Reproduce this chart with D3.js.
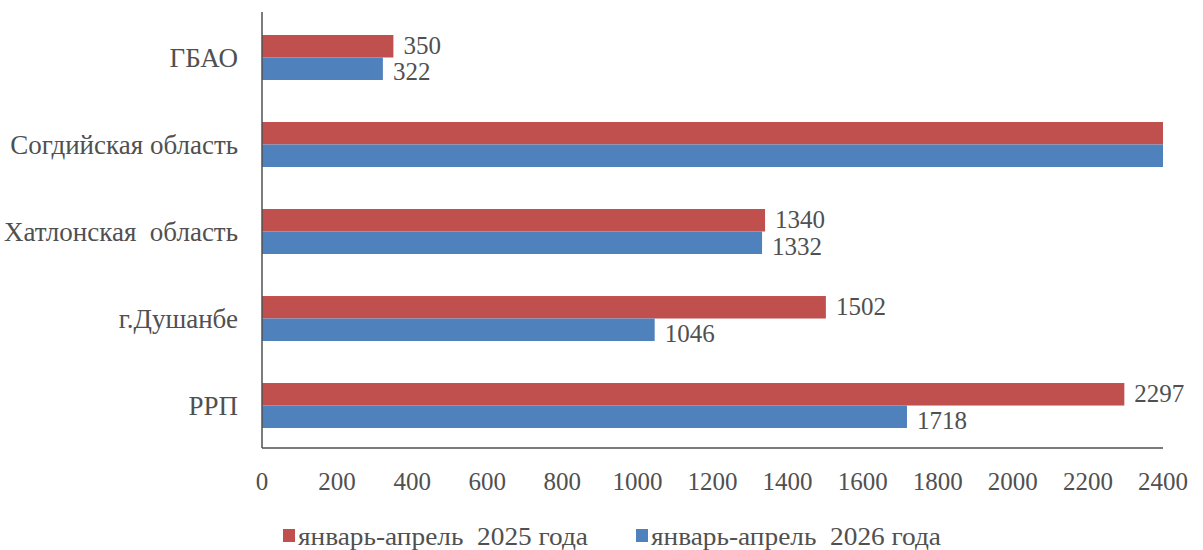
<!doctype html>
<html>
<head>
<meta charset="utf-8">
<style>
  body { margin: 0; background: #fff; }
  svg text { font-family: 'Liberation Serif', 'Times New Roman', serif; fill: #505050; }
</style>
<script src="https://d3js.org/d3.v7.min.js"></script>
</head>
<body>
<svg width="1203" height="550"></svg>
<script>
const categories = ["ГБАО", "Согдийская область", "Хатлонская  область", "г.Душанбе", "РРП"];
const seriesNames = ["январь-апрель  2025 года", "январь-апрель  2026 года"];
const values2025 = [350, 2520, 1340, 1502, 2297];
const values2026 = [322, 2480, 1332, 1046, 1718];
const xTicks = [0, 200, 400, 600, 800, 1000, 1200, 1400, 1600, 1800, 2000, 2200, 2400];
const colors = ["#C0504D", "#4F81BD"];

const svg = d3.select("svg");
const plotL = 262, plotR = 1163, plotT = 12, plotB = 448;

const x = d3.scaleLinear().domain([0, 2400]).range([plotL, plotR]);
const y = d3.scaleBand().domain(categories).range([plotT, plotB])
  .paddingInner(0.483).paddingOuter(0.247).align(0.535);
const ySub = d3.scaleBand().domain([0, 1]).range([0, y.bandwidth()]);

svg.append("clipPath").attr("id", "plot")
  .append("rect").attr("x", plotL).attr("y", plotT).attr("width", plotR - plotL).attr("height", plotB - plotT);

const series = [values2025, values2026];
const labelShift = [-1, 3];
const bars = svg.append("g").attr("clip-path", "url(#plot)");
series.forEach(function(vals, s) {
  bars.selectAll(".s" + s)
    .data(categories)
    .enter().append("rect")
    .attr("x", x(0))
    .attr("y", function(d) { return y(d) + ySub(s); })
    .attr("width", function(d, i) { return x(Math.min(vals[i], 2400)) - x(0); })
    .attr("height", ySub.bandwidth())
    .attr("fill", colors[s]);

  // labels only for bars that end inside the plot
  svg.selectAll(".lbl" + s)
    .data(categories.filter(function(d, i) { return vals[i] <= 2400; }))
    .enter().append("text")
    .attr("x", function(d) { return x(vals[categories.indexOf(d)]) + 10; })
    .attr("y", function(d) { return y(d) + ySub(s) + ySub.bandwidth() / 2 + labelShift[s]; })
    .attr("dy", "0.35em")
    .style("font-size", "25px")
    .text(function(d) { return vals[categories.indexOf(d)]; });
});

// axes
svg.append("line").attr("x1", plotL).attr("x2", plotL).attr("y1", plotT).attr("y2", plotB)
  .attr("stroke", "#505050").attr("stroke-width", 1.5);
svg.append("line").attr("x1", plotL).attr("x2", plotR).attr("y1", plotB).attr("y2", plotB)
  .attr("stroke", "#505050").attr("stroke-width", 1.5);

svg.selectAll(".xt")
  .data(xTicks)
  .enter().append("text")
  .attr("x", function(d) { return x(d); })
  .attr("y", 481)
  .attr("dy", "0.35em")
  .attr("text-anchor", "middle")
  .style("font-size", "25px")
  .text(function(d) { return d; });

svg.selectAll(".yt")
  .data(categories)
  .enter().append("text")
  .attr("x", 238)
  .attr("y", function(d) { return y(d) + y.bandwidth() / 2; })
  .attr("dy", "0.35em")
  .attr("text-anchor", "end")
  .style("font-size", "27px")
  .style("white-space", "pre")
  .text(function(d) { return d; });

// legend
const legendX = [283, 636];
const legend = svg.selectAll(".lg")
  .data(seriesNames)
  .enter().append("g")
  .attr("transform", function(d, i) { return "translate(" + legendX[i] + ",536)"; });
legend.append("rect").attr("x", 0).attr("y", -7).attr("width", 12).attr("height", 13)
  .attr("fill", function(d, i) { return colors[i]; });
legend.append("text").attr("x", 15).attr("y", 0).attr("dy", "0.35em")
  .style("font-size", "25px")
  .style("white-space", "pre")
  .attr("textLength", 290)
  .attr("lengthAdjust", "spacingAndGlyphs")
  .text(function(d) { return d; });
</script>
</body>
</html>
